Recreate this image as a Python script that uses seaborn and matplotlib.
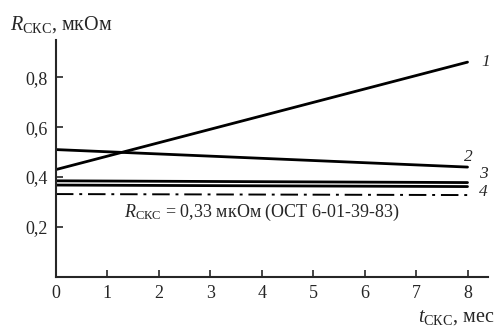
import numpy as np
import pandas as pd
import seaborn as sns
import matplotlib.pyplot as plt

# months
months = [0, 8]
# R_SKS, mkOhm, read at the ends of each line
line1 = [0.43, 0.86]
line2 = [0.51, 0.44]
line3 = [0.385, 0.378]
line4 = [0.368, 0.362]
norm_line = [0.332, 0.328]
curve_names = ['1', '2', '3', '4']
x_ticks = [0, 1, 2, 3, 4, 5, 6, 7, 8]
y_ticks = [0.2, 0.4, 0.6, 0.8]
y_tick_labels = ['0,2', '0,4', '0,6', '0,8']

sns.set_style('ticks')
plt.rcParams['font.family'] = ['Liberation Serif', 'DejaVu Serif']
plt.rcParams['mathtext.fontset'] = 'custom'
plt.rcParams['mathtext.rm'] = 'Liberation Serif'
plt.rcParams['mathtext.it'] = 'Liberation Serif:italic'

fig = plt.figure(figsize=(4.95, 3.29), dpi=100)
ax = fig.add_axes([0.113, 0.158, 0.872, 0.72])

df = pd.DataFrame({
    'month': months * 4,
    'R': line1 + line2 + line3 + line4,
    'curve': [n for n in curve_names for _ in months],
})
sns.lineplot(data=df, x='month', y='R', units='curve', estimator=None,
             color='black', linewidth=2.0, ax=ax, legend=False)
sns.lineplot(x=months, y=norm_line, color='black', linewidth=1.4,
             dashes=False, ax=ax, legend=False)
ax.lines[-1].set_dashes((9, 3, 1.5, 3))

ax.set_xlim(0, 8.39)
ax.set_ylim(0, 0.948)
ax.set_xticks(x_ticks)
ax.set_yticks(y_ticks)
ax.set_yticklabels(y_tick_labels)
ax.tick_params(direction='in', length=5, width=1.2, labelsize=13, pad=6)
for s in ['top', 'right']:
    ax.spines[s].set_visible(False)
for s in ['left', 'bottom']:
    ax.spines[s].set_linewidth(1.5)
ax.set_xlabel('')
ax.set_ylabel('')

# curve numbers, placed beside the right ends
label_pos = [(8.35, 0.86), (8.02, 0.48), (8.3, 0.414), (8.3, 0.34)]
for name, (xo, yo) in zip(curve_names, label_pos):
    ax.text(xo, yo, name, fontsize=12.5, style='italic', ha='center', va='center',
            clip_on=False)

ax.text(4.0, 0.3, r'$R_{\mathrm{СКС}}$ = 0,33 мкОм (ОСТ 6-01-39-83)',
        fontsize=13, ha='center', va='top')
fig.text(0.02, 0.925, r'$R_{\mathrm{СКС}}$, мкОм', fontsize=14.5, ha='left', va='center')
fig.text(0.998, 0.035, r'$t_{\mathrm{СКС}}$, мес', fontsize=14.5, ha='right', va='center')

fig.savefig('out.png', dpi=100)
